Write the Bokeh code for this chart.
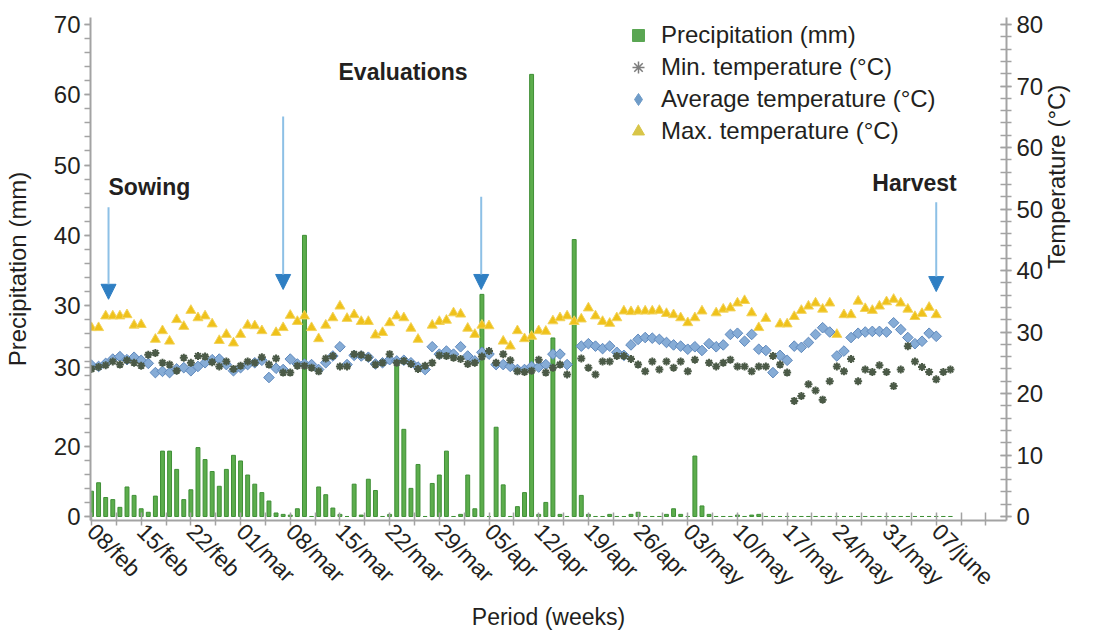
import math
from bokeh.plotting import figure
from bokeh.models import (Range1d, LinearAxis, FixedTicker, ColumnDataSource, Legend,
                          LegendItem, Arrow, NormalHead, Label)
from bokeh.embed import file_html
from bokeh.resources import INLINE

nan = float("nan")

# ---------------- data (one value per day, day 0 = 08/feb) ----------------
week_labels = ["08/feb", "15/feb", "22/feb", "01/mar", "08/mar", "15/mar", "22/mar",
               "29/mar", "05/apr", "12/apr", "19/apr", "26/apr", "03/may", "10/may",
               "17/may", "24/may", "31/may", "07/june"]

# left-axis tick labels as printed in the source figure
precip_tick_values = [0, 10, 21.2, 30, 40, 50, 60, 70]
precip_tick_labels = ["0", "20", "30", "30", "40", "50", "60", "70"]

precip = [3.6, 4.8, 2.7, 2.4, 1.3, 4.2, 3.0, 1.1, 0.6, 2.9,
          9.3, 9.3, 6.7, 2.4, 3.8, 9.8, 8.1, 6.4, 4.3, 6.7,
          8.7, 7.9, 5.9, 4.6, 3.4, 2.2, 0.5, 0.3, 0.2, 1.1,
          40.0, 0, 4.2, 3.1, 1.2, 0.3, 0, 4.6, 0.2, 5.3,
          3.7, 0, 0.3, 21.9, 12.4, 4.0, 7.4, 0, 4.7, 5.9,
          9.3, 0, 0.3, 5.9, 1.1, 31.6, 0, 12.7, 4.5, 0,
          1.4, 3.4, 62.9, 0.3, 2.0, 25.4, 0.3, 0, 39.4, 3.0,
          0.3, 0, 0, 0.3, 0, 0, 0.3, 0.6, 0, 0,
          0, 0.3, 1.1, 0.3, 0, 8.6, 1.5, 0.3, 0, 0,
          0, 0.2, 0, 0.2, 0.3, 0, 0, 0, 0, 0,
          0, 0, 0, 0, 0, 0, 0, 0, 0, 0,
          0, 0, 0, 0, 0, 0, 0, 0, 0, 0,
          0, 0]

t_max = [30.7, 30.7, 32.6, 32.6, 32.6, 32.8, 31.1, 31.2, nan, 28.8,
         30.2, 28.5, 32.0, 30.9, 33.5, 32.3, 32.6, 31.3, 28.6, 29.6,
         28.2, 29.6, 31.1, 31.0, 30.2, nan, 29.9, 30.7, 32.7, 31.7,
         32.6, 30.7, 28.9, 31.1, 32.3, 34.2, 32.2, 32.8, 31.7, 31.7,
         29.5, 29.9, 31.5, 32.6, 32.3, 30.6, 28.8, nan, 31.1, 31.7,
         31.9, 33.1, 32.9, 30.6, 29.6, 31.1, 31.0, nan, 28.5, 27.7,
         30.2, 28.9, 29.3, 30.2, 30.1, 31.8, 32.3, 32.6, 31.7, 32.1,
         33.9, 32.6, 31.7, 31.4, 32.3, 33.4, 33.3, 33.4, 33.4, 33.4,
         33.5, 33.0, 32.8, 32.3, 31.5, 32.3, 33.4, nan, 33.1, 33.7,
         33.9, 34.7, 35.1, 33.1, 30.7, 32.2, nan, 31.3, 31.3, 32.5,
         33.5, 34.2, 34.7, 33.7, 34.7, 29.6, 32.8, 32.8, 35.0, 33.8,
         33.5, 34.2, 34.9, 35.3, 34.7, 33.7, 32.5, 33.0, 34.0, 32.8,
         nan, nan]

t_avg = [24.6, 24.4, 24.9, 25.6, 26.0, 25.5, 25.9, 25.4, 24.9, 23.4,
         23.6, 23.4, 24.0, 24.2, 23.7, 24.4, 25.0, 25.5, 25.6, 24.7,
         23.7, 24.2, 24.7, 25.0, 25.4, 22.6, 24.1, 23.9, 25.6, 24.8,
         24.8, 24.7, 23.9, 25.0, 26.1, 27.6, 24.7, 26.2, 26.1, 25.9,
         24.8, 25.0, 25.5, 25.3, 25.4, 25.0, 24.3, 23.9, 27.6, 26.4,
         26.9, 26.4, 27.6, 26.1, 25.3, 26.7, 26.4, 24.7, 24.7, 24.4,
         23.9, 23.9, 24.4, 24.3, 24.7, 26.4, 26.4, 24.7, nan, 27.7,
         28.1, 27.7, 27.3, 27.7, 26.7, 26.2, 27.9, 28.8, 29.1, 29.0,
         28.8, 28.3, 27.9, 27.7, 27.2, 27.6, 27.0, 28.1, 27.6, 27.9,
         29.6, 29.8, 28.5, 29.6, 27.2, 27.0, 23.4, 26.2, 25.4, 27.7,
         27.5, 28.3, 29.6, 30.7, 30.0, 26.1, 26.9, 29.1, 29.8, 30.0,
         30.1, 30.1, 30.0, 31.5, 30.4, 29.1, 28.1, 28.5, 29.8, 29.3,
         nan, nan]

t_min = [24.0, 24.3, 24.6, 25.2, 24.7, 25.4, 25.0, 24.5, 26.3, 26.6,
         25.0, 24.7, 23.7, 25.8, 25.0, 26.1, 26.0, 25.1, 24.4, 25.2,
         24.0, 24.5, 25.2, 25.0, 25.9, 24.7, 25.7, 23.4, 23.4, 24.5,
         24.5, 24.2, 23.6, 25.7, 26.1, 24.4, 24.4, 26.4, 26.3, 25.8,
         24.7, 25.0, 26.4, 25.0, 25.3, 24.8, 24.0, 24.5, 25.0, 26.2,
         26.1, 25.8, 25.6, 24.8, 25.0, 26.0, 26.9, 25.0, 26.4, 25.4,
         23.6, 23.5, 23.7, 25.5, 23.4, 24.2, 24.7, 23.1, nan, 25.7,
         24.2, 23.1, 25.2, 25.2, 26.1, 26.1, 25.6, 24.7, 23.6, 25.2,
         23.9, 25.2, 24.2, 25.2, 23.6, 25.5, nan, 25.0, 24.4, 25.0,
         25.5, 24.4, 24.4, 23.6, 24.4, 24.4, 26.1, 24.7, 23.4, 18.8,
         19.6, 21.5, 20.5, 19.0, 22.0, 24.4, 23.6, 25.6, 22.0, 23.9,
         23.5, 24.6, 23.5, 21.2, 23.9, 27.7, 25.2, 24.3, 23.5, 22.3,
         23.5, 23.9]

days = list(range(len(precip)))

event_names = ["Sowing", "Evaluations", "Harvest"]

# ---------------- layout / style constants ----------------
FONT = "Liberation Sans"
TXT = "#231f20"
AXIS_GRAY = "#a3a3a3"

src = ColumnDataSource(dict(day=days, precip=precip, tmin=t_min, tavg=t_avg, tmax=t_max))

p = figure(frame_width=916, frame_height=503, output_backend="svg", toolbar_location=None,
           x_range=Range1d(-0.14, 128.9), y_range=Range1d(-0.57, 70.99),
           min_border_left=82, min_border_right=91, min_border_top=17, min_border_bottom=108)
p.extra_y_ranges = {"temp": Range1d(-0.65, 81.14)}
p.outline_line_color = None
p.xgrid.visible = False
p.ygrid.visible = False
p.background_fill_color = "white"

bars = p.vbar(x="day", top="precip", width=0.55, source=src,
              fill_color="#5cad4c", line_color="#3f8f36", line_width=1)
r_max = p.scatter("day", "tmax", source=src, y_range_name="temp", marker="triangle",
                  size=10, fill_color="#efc21b", line_color="#f3d35c", line_width=1)
r_avg = p.scatter("day", "tavg", source=src, y_range_name="temp", marker="square",
                  angle=math.pi / 4, size=7.5, fill_color="#86acd6", line_color="#5f89bd",
                  line_width=1)
r_min = p.scatter("day", "tmin", source=src, y_range_name="temp", marker="asterisk",
                  size=8, line_color="#4b5a47", line_width=2)

# legend swatches (a single undefined point each, only visible inside the legend)
lg_pre = p.scatter(x=[nan], y=[nan], marker="square", size=10,
                   fill_color="#5aa653", line_color="#5aa653")
lg_min = p.scatter(x=[nan], y=[nan], marker="asterisk", size=10,
                   line_color="#7d7d7d", line_width=1.5)
lg_avg = p.scatter(x=[nan], y=[nan], marker="diamond", size=10,
                   fill_color="#6f9cc8", line_color="#6f9cc8")
lg_max = p.scatter(x=[nan], y=[nan], marker="triangle", size=10,
                   fill_color="#d8c548", line_color="#d8c548")

# ---------------- axes ----------------
xticks = list(range(0, 127, 7))
xax = p.xaxis[0]
xax.ticker = FixedTicker(ticks=xticks, minor_ticks=[t + 3.5 for t in xticks])
xax.major_label_overrides = {t: (week_labels[i] if i < len(week_labels) else "")
                             for i, t in enumerate(xticks)}
xax.major_label_orientation = -math.pi / 4
xax.axis_label = "Period (weeks)"

yax = p.yaxis[0]
yax.ticker = FixedTicker(ticks=precip_tick_values, minor_ticks=list(range(0, 71, 2)))
yax.major_label_overrides = dict(zip(precip_tick_values, precip_tick_labels))
yax.axis_label = "Precipitation (mm)"

rax = LinearAxis(y_range_name="temp", axis_label="Temperature (°C)")
rax.ticker = FixedTicker(ticks=list(range(0, 81, 10)), minor_ticks=list(range(0, 81, 2)))
p.add_layout(rax, "right")
try:
    rax.axis_label_orientation = math.pi / 2
except Exception:
    pass

for ax in (xax, yax, rax):
    ax.axis_line_color = AXIS_GRAY
    ax.axis_line_width = 2
    ax.major_tick_line_color = AXIS_GRAY
    ax.minor_tick_line_color = AXIS_GRAY
    ax.major_tick_line_width = 1.5
    ax.minor_tick_line_width = 1.5
    ax.major_label_text_font = FONT
    ax.major_label_text_font_size = "24px"
    ax.major_label_text_color = TXT
    ax.axis_label_text_font = FONT
    ax.axis_label_text_font_size = "24px"
    ax.axis_label_text_font_style = "normal"
    ax.axis_label_text_color = TXT

xax.major_label_text_font_size = "23px"
xax.axis_label_text_font_size = "23px"
xax.major_tick_in = 8
xax.major_tick_out = 5
xax.minor_tick_in = 8
xax.minor_tick_out = 5
xax.major_label_standoff = 2
xax.axis_label_standoff = 2

yax.major_tick_in = 0
yax.major_tick_out = 6
yax.minor_tick_in = 0
yax.minor_tick_out = 6
yax.major_label_standoff = 4
yax.axis_label_standoff = 20

rax.major_tick_in = 6
rax.major_tick_out = 5
rax.minor_tick_in = 6
rax.minor_tick_out = 5
rax.major_label_standoff = 5
rax.axis_label_standoff = 10

# ---------------- arrows and captions ----------------
arrow_day = [2.4, 27.0, 54.9, 119.0]
arrow_top = [44.0, 56.9, 45.5, 44.7]
arrow_tip = [30.9, 32.3, 32.3, 32.0]
for xd, yt, yb in zip(arrow_day, arrow_top, arrow_tip):
    p.add_layout(Arrow(x_start=xd, y_start=yt, x_end=xd, y_end=yb,
                       line_color="#8dc0e6", line_width=2,
                       end=NormalHead(size=15, fill_color="#2f7fc3", line_color="#2f7fc3")))

caption_x = [2.4, 34.8, 110.0]
caption_y = [46.9, 63.2, 47.5]
for name, cx, cy in zip(event_names, caption_x, caption_y):
    p.add_layout(Label(x=cx, y=cy, text=name, text_font=FONT, text_font_size="23px",
                       text_font_style="bold", text_color=TXT, text_baseline="middle",
                       text_align="left"))

# ---------------- legend ----------------
legend = Legend(items=[
    LegendItem(label="Precipitation (mm)", renderers=[lg_pre]),
    LegendItem(label="Min. temperature (°C)", renderers=[lg_min]),
    LegendItem(label="Average temperature (°C)", renderers=[lg_avg]),
    LegendItem(label="Max. temperature (°C)", renderers=[lg_max]),
], location=(533, 374), orientation="vertical")
legend.label_text_font = FONT
legend.label_text_font_size = "24px"
legend.label_text_color = TXT
legend.glyph_width = 30
legend.glyph_height = 30
legend.label_height = 30
legend.label_standoff = 8
legend.spacing = 2
legend.padding = 2
legend.margin = 0
legend.border_line_color = None
legend.background_fill_alpha = 0
p.add_layout(legend)

open("out.html", "w").write(file_html(p, INLINE))
